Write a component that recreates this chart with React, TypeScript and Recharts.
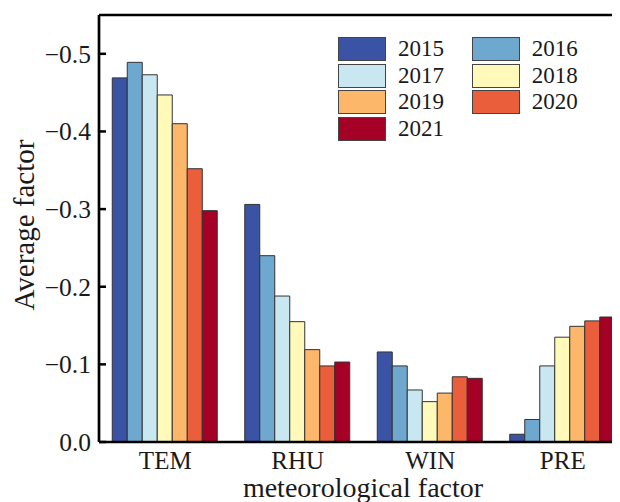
import React from 'react';
import { BarChart, Bar, XAxis, YAxis, ReferenceLine } from 'recharts';

const categories = ['TEM', 'RHU', 'WIN', 'PRE'];
const years = ['2015', '2016', '2017', '2018', '2019', '2020', '2021'];
const colors = ['#3a53a4', '#6fa8cf', '#c9e7f1', '#fffab9', '#fdb76a', '#ea5e3c', '#a50026'];

const v2015 = [-0.469, -0.306, -0.116, -0.010];
const v2016 = [-0.489, -0.240, -0.098, -0.029];
const v2017 = [-0.473, -0.188, -0.067, -0.098];
const v2018 = [-0.447, -0.155, -0.052, -0.135];
const v2019 = [-0.410, -0.119, -0.063, -0.149];
const v2020 = [-0.352, -0.098, -0.084, -0.156];
const v2021 = [-0.298, -0.103, -0.082, -0.161];
const seriesValues = [v2015, v2016, v2017, v2018, v2019, v2020, v2021];

const yTicks = [0, -0.1, -0.2, -0.3, -0.4, -0.5];
const yLabel = 'Average factor';
const xLabel = 'meteorological factor';

const data = categories.map((c, i) => {
  const row: Record<string, string | number> = { name: c };
  years.forEach((y, j) => {
    row[y] = seriesValues[j][i];
  });
  return row;
});

const FONT = "'Liberation Serif', 'Times New Roman', serif";
const TEXT = '#1a1a1a';

const fmt = (v: number) => (v === 0 ? '0.0' : '\u2212' + Math.abs(v).toFixed(1));

const YTick = (props: any) => {
  const { x, y, payload } = props;
  return (
    <g>
      <line x1={x} x2={x + 7} y1={y} y2={y} stroke="#000" strokeWidth={2.5} />
      <text x={x - 8} y={y} dy="0.35em" textAnchor="end" fontSize={25.5} fontFamily={FONT} fill={TEXT}>
        {fmt(payload.value)}
      </text>
    </g>
  );
};

const XTick = (props: any) => {
  const { x, y, payload } = props;
  return (
    <text x={x} y={y + 26.5} textAnchor="middle" fontSize={25} fontFamily={FONT} fill={TEXT}>
      {payload.value}
    </text>
  );
};

export default function App() {
  return (
    <div style={{ position: 'relative', width: 612, height: 494, overflow: 'hidden' }}>
      <BarChart
        width={640}
        height={494}
        data={data}
        margin={{ top: 7, right: 19, bottom: 0, left: 0 }}
        barCategoryGap="10%"
        barGap={0}
      >
        <XAxis
          dataKey="name"
          height={60}
          tickSize={0}
          tickMargin={0}
          tickLine={false}
          axisLine={{ stroke: '#000', strokeWidth: 2.7 }}
          tick={<XTick />}
          interval={0}
        />
        <YAxis
          type="number"
          width={91}
          domain={[-0.55, 0]}
          reversed
          ticks={yTicks}
          tickSize={0}
          tickMargin={0}
          tickLine={false}
          axisLine={{ stroke: '#000', strokeWidth: 2.7 }}
          tick={<YTick />}
          interval={0}
        />
        <ReferenceLine y={-0.55} stroke="#000" strokeWidth={2.7} />
        {years.map((y, j) => (
          <Bar
            key={y}
            dataKey={y}
            fill={colors[j]}
            stroke="#333"
            strokeWidth={1}
            isAnimationActive={false}
          />
        ))}
      </BarChart>
      <svg
        width={612}
        height={494}
        style={{ position: 'absolute', left: 0, top: 0, pointerEvents: 'none' }}
      >
        <text
          transform="translate(26,217) rotate(-90)"
          textAnchor="middle"
          fontSize={29}
          fontFamily={FONT}
          fill={TEXT}
        >
          {yLabel}
        </text>
        <text x={355} y={489} textAnchor="middle" fontSize={28} fontFamily={FONT} fill={TEXT}>
          {xLabel}
        </text>
      </svg>
      <div style={{ position: 'absolute', left: 330, top: 29, fontFamily: FONT, fontSize: 23, color: TEXT }}>
        {years.map((y, j) => {
          const col = j % 2;
          const row = Math.floor(j / 2);
          return (
            <div
              key={y}
              style={{
                position: 'absolute',
                left: col * 133.7,
                top: row * 26.7,
                display: 'flex',
                alignItems: 'center',
                height: 24,
                whiteSpace: 'nowrap',
              }}
            >
              <div
                style={{
                  width: 46,
                  height: 22,
                  background: colors[j],
                  border: '1px solid #444',
                }}
              />
              <span style={{ marginLeft: 12, lineHeight: '24px' }}>{y}</span>
            </div>
          );
        })}
      </div>
    </div>
  );
}
